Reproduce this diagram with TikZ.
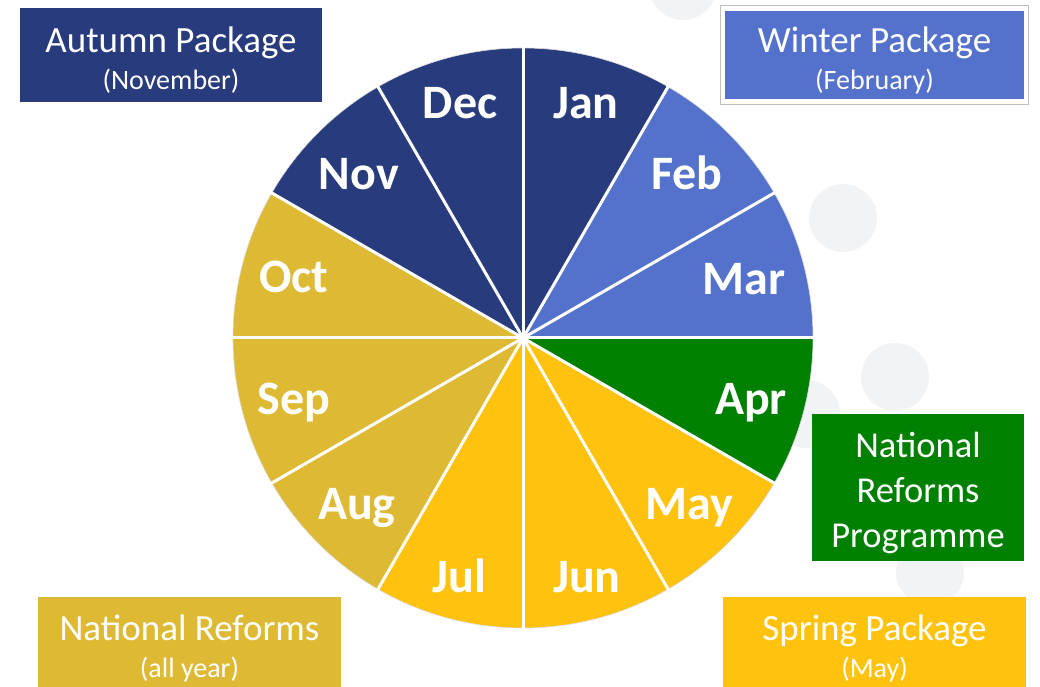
\documentclass[tikz,border=0pt]{standalone}
\usepackage{fontspec}
\setmainfont{Carlito}

\definecolor{autumnblue}{RGB}{40,59,125}
\definecolor{winterblue}{RGB}{84,114,203}
\definecolor{nrpgreen}{RGB}{0,128,0}
\definecolor{springyellow}{RGB}{255,194,14}
\definecolor{reformgold}{RGB}{222,186,52}
\definecolor{spotgray}{RGB}{242,243,245}

\newcommand{\subline}[1]{{\fontsize{28}{37}\selectfont #1}}
\newcommand{\topstrut}{\rule{0pt}{36pt}}

\tikzset{
  month/.style={text=white, font=\fontsize{48}{50}\selectfont\bfseries, inner sep=0pt, text height=31pt, text depth=0pt},
  package/.style={text=white, align=center, inner sep=0pt, font=\fontsize{37}{37}\selectfont},
  spot/.style={fill=spotgray}
}

\begin{document}
\begin{tikzpicture}[x=1pt,y=1pt]
\useasboundingbox (0,0) rectangle (1040,687);

% grey spots behind everything
\fill[spot] (683,701) circle (34);
\fill[spot] (843,469) circle (34);
\fill[spot] (895,310) circle (34);
\fill[spot] (806,273) circle (34);
\fill[spot] (930,115) circle (34);

\coordinate (c) at (523,349);

% the twelve months
\foreach \col [count=\i] in {autumnblue,winterblue,winterblue,nrpgreen,springyellow,springyellow,springyellow,reformgold,reformgold,reformgold,autumnblue,autumnblue}
  \fill[\col] (c) -- ++({120-30*\i}:290) arc [start angle={120-30*\i}, end angle={90-30*\i}, radius=290] -- cycle;

\draw[black!15, line width=0.6] (c) circle (290);

\foreach \a in {0,30,...,330}
  \draw[white, line width=3] (c) -- ++(\a:291);

\foreach \m/\a/\r in {Jan/75/243, Feb/45/232, Mar/15/229, Apr/-15/236, May/-45/235, Jun/-75/247, Jul/-105/247, Aug/-135/235, Sep/-165/237, Oct/165/237, Nov/135/232, Dec/105/243}
  \node[month] (\m) at ([shift={(\a:\r)}]c) {\m};

% packages
\node[package, fill=autumnblue, minimum width=302, minimum height=94] (autumn) at (171,632) {\topstrut Autumn Package\\\subline{(November)}};

\node[package, fill=winterblue, minimum width=299, minimum height=88] (winter) at (874.5,632) {\topstrut Winter Package\\\subline{(February)}};
\draw[black!25, line width=0.8] ([shift={(-4,-5)}]winter.south west) rectangle ([shift={(4,5)}]winter.north east);

\node[package, fill=nrpgreen, minimum width=212, minimum height=147, font=\fontsize{36.5}{45}\selectfont] (nrp) at (918,199.5) {\topstrut National\\Reforms\\Programme};

\node[package, fill=springyellow, minimum width=303, minimum height=102] (spring) at (874.5,39) {Spring Package\\\subline{(May)}};

\node[package, fill=reformgold, minimum width=303, minimum height=102] (reforms) at (189.5,39) {National Reforms\\\subline{(all year)}};

\end{tikzpicture}
\end{document}
